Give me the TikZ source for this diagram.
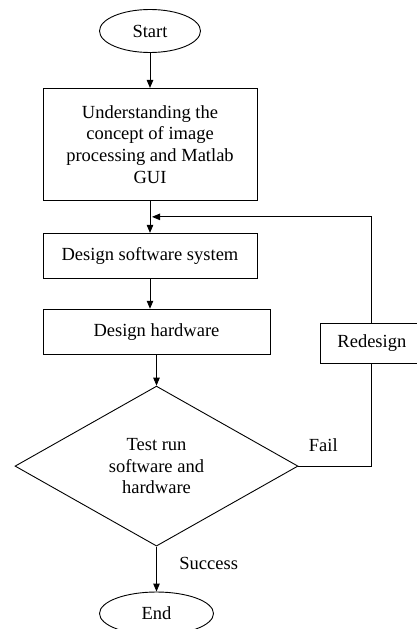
\documentclass[tikz,border=0pt]{standalone}
\usepackage{fontspec}
\setmainfont{Liberation Serif}
\usetikzlibrary{arrows.meta, calc, positioning, shapes.geometric}

\begin{document}
\begin{tikzpicture}[
  x=1pt, y=-1pt,
  font=\fontsize{18.5}{21.7}\selectfont,
  line width=0.9pt,
  terminal/.style={draw, ellipse, inner sep=0pt, minimum height=43pt},
  process/.style={draw, align=center, inner sep=2pt, minimum width=214pt, minimum height=45pt},
  decision/.style={draw, diamond, align=center, inner sep=0pt, minimum width=283pt, minimum height=160pt},
  caption/.style={inner sep=0pt},
  arrow/.style={-{Triangle[length=8pt, width=6.5pt]}}
]
\useasboundingbox (0,0) rectangle (416,629);

\node[terminal, minimum width=101pt] (start) at (150,31) {Start};
\node[process, minimum height=112pt, below=35pt of start] (understand) {Understanding the\\concept of image\\processing and Matlab\\GUI};
\node[process, below=32pt of understand] (software) {Design software system};
\node[process, minimum width=227pt, below=30pt of software.south west, anchor=north west] (hardware) {Design hardware};
\node[decision, below=31pt of hardware] (test) {Test run\\software and\\hardware};
\node[terminal, minimum width=114pt, below=45pt of test] (finish) {End};
\node[draw, minimum width=102pt, minimum height=40pt, inner sep=2pt, right=50pt of hardware.south east, anchor=south west, yshift=-9pt] (redesign) {Redesign};

\coordinate (join) at ($(understand.south)!0.5!(software.north)$);

\node[caption, above right=14pt and 10pt of test.east, anchor=south west] (fail) {Fail};
\node[caption, below right=10.5pt and 22.5pt of test.south, anchor=north west] (success) {Success};

\draw[arrow] (start) -- (understand);
\draw[arrow] (understand) -- (software);
\draw[arrow] (software) -- (hardware.north -| software.south);
\draw[arrow] (hardware) -- (test);
\draw[arrow] (test) -- (finish);
\draw (test.east) -| (redesign.south);
\draw[arrow] (redesign.north) |- ([xshift=2pt]join);
\end{tikzpicture}
\end{document}
